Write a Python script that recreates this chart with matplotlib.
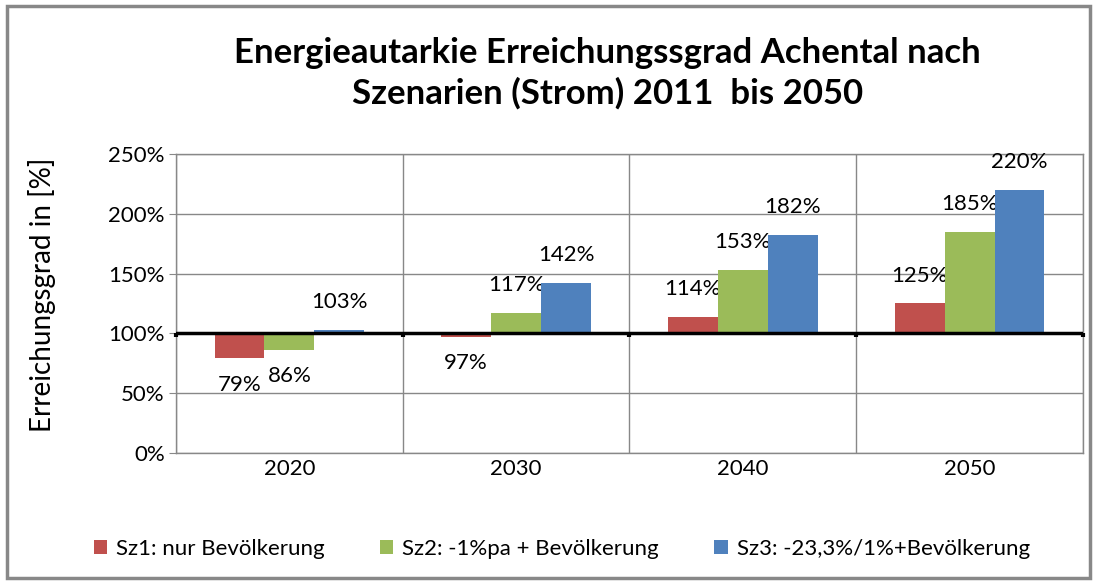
import numpy as np
import matplotlib.pyplot as plt
from matplotlib.patches import Rectangle
from matplotlib.ticker import FuncFormatter

# ==================================================
# DATA
# ==================================================
years = ["2020", "2030", "2040", "2050"]
sz1 = [0.79, 0.97, 1.14, 1.25]
sz2 = [0.86, 1.17, 1.53, 1.85]
sz3 = [1.03, 1.42, 1.82, 2.20]
series_names = ["Sz1: nur Bevölkerung", "Sz2: -1%pa + Bevölkerung",
                "Sz3: -23,3%/1%+Bevölkerung"]
colors = ["#C0504D", "#9BBB59", "#4F81BD"]

plt.rcParams['font.family'] = ['Lato', 'DejaVu Sans']

fig = plt.figure(figsize=(10.97, 5.83), dpi=100)
ax = fig.add_axes([0.1604, 0.223, 0.8268, 0.513])

# outer chart border
fig.patches.append(Rectangle((7 / 1097, 5 / 583), 1083 / 1097, 572 / 583,
                             transform=fig.transFigure, fill=False,
                             edgecolor="#888888", linewidth=2.5))

x = np.arange(len(years))
width = 0.22
base = 1.0
for i, (vals, c, name) in enumerate(zip([sz1, sz2, sz3], colors, series_names)):
    pos = x + (i - 1) * width
    vals = np.array(vals)
    ax.bar(pos, vals - base, width, bottom=base, color=c, label=name, zorder=3)
    for px, v in zip(pos, vals):
        off = 20 if v >= base else -19
        ax.annotate(f"{v * 100:.0f}%", (px, v), xytext=(0, off),
                    textcoords="offset points", ha="center", va="center",
                    fontsize=16)

ax.set_xlim(-0.5, len(years) - 0.5)
ax.set_ylim(0, 2.5)
ax.set_yticks(np.arange(0, 2.51, 0.5))
ax.yaxis.set_major_formatter(FuncFormatter(lambda v, _: f"{v * 100:.0f}%"))
ax.set_xticks(x)
ax.set_xticklabels(years)
ax.tick_params(axis="x", length=0, labelsize=16, pad=4)
ax.tick_params(axis="y", length=5, color="#888888", labelsize=16, pad=3)

# gridlines
for b in np.arange(-0.5, len(years), 1.0):
    ax.axvline(b, color="#888888", linewidth=1, zorder=1)
ax.yaxis.grid(True, color="#888888", linewidth=1, zorder=1)
ax.set_axisbelow(True)
for s in ax.spines.values():
    s.set_color("#888888")
    s.set_linewidth(1)

# baseline at 100 %
ax.axhline(base, color="black", linewidth=2.5, zorder=4)
ax.vlines(np.arange(-0.5, len(years), 1.0), base - 0.03, base, color="black",
          linewidth=3, zorder=4, clip_on=False)

ax.set_ylabel("Erreichungsgrad in [%]", fontsize=20)
ax.yaxis.set_label_coords(-0.132, 0.53)

fig.text(0.554, 0.875, "Energieautarkie Erreichungssgrad Achental nach\n"
         "Szenarien (Strom) 2011  bis 2050", ha="center", va="center",
         fontsize=25, fontweight="bold", linespacing=1.3)

fig.legend(loc="center", bbox_to_anchor=(0.512, 0.058), ncol=3, frameon=False,
           fontsize=16, handlelength=0.6, handleheight=0.6, handletextpad=0.4,
           columnspacing=2.5)

fig.savefig("out.png", dpi=100)
